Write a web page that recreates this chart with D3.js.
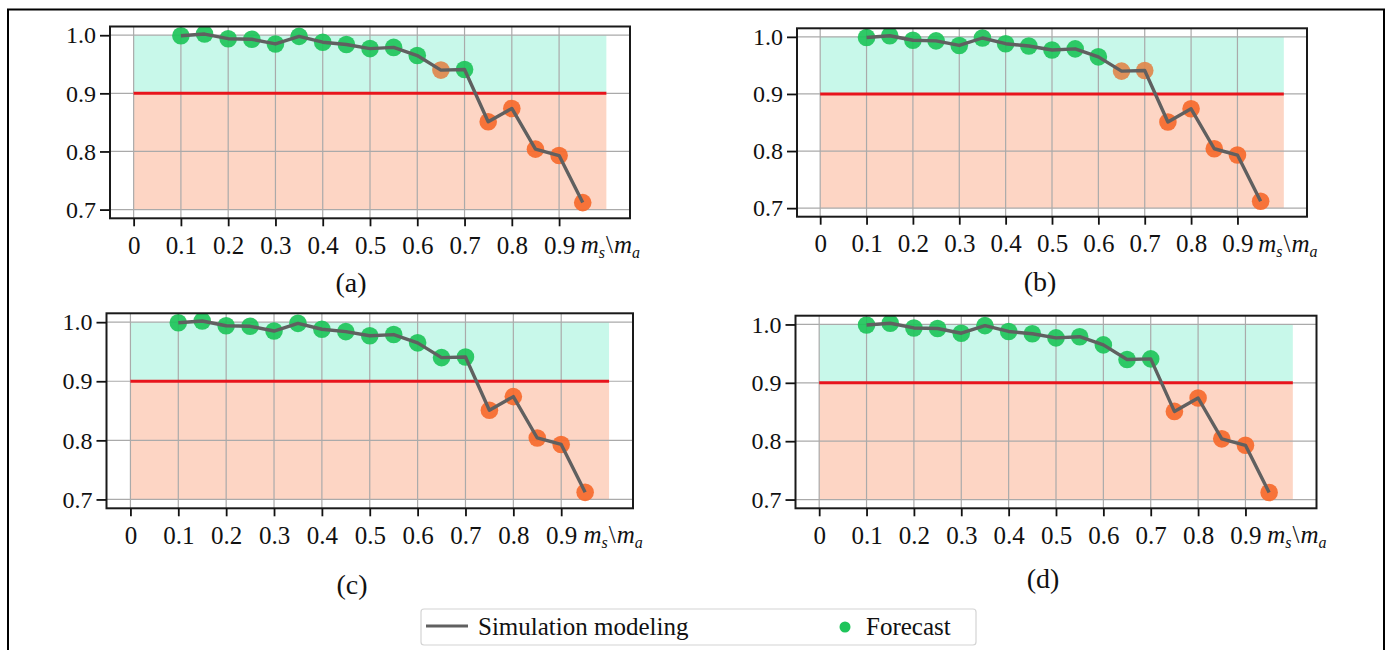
<!DOCTYPE html>
<html lang="en">
<head>
    <meta charset="UTF-8">
    <title>Simulation modeling vs forecast</title>
    <script src="https://d3js.org/d3.v7.min.js"></script>
    <style>
        body {
            margin: 0;
            background: #fff;
        }
        svg text {
            font-family: "Liberation Serif", "DejaVu Serif", serif;
            fill: #111;
        }
        .axis path.domain {
            display: none;
        }
        .axis line {
            stroke: #111;
            stroke-width: 1.8;
        }
    </style>
</head>
<body>
    <div id="chart"></div>

    <script>
        // share of x points (m_s / m_a) and simulated values, same in all panels
        const xValues = [0.1, 0.15, 0.2, 0.25, 0.3, 0.35, 0.4, 0.45, 0.5, 0.55, 0.6, 0.65, 0.7, 0.75, 0.8, 0.85, 0.9, 0.95];
        const simValues = [0.999, 1.002, 0.994, 0.993, 0.985, 0.998, 0.988, 0.984, 0.977, 0.979, 0.965, 0.940, 0.941, 0.851, 0.874, 0.804, 0.793, 0.712];

        // forecast class per point: g = ok, o = below threshold, m = mixed
        const forecastA = ["g", "g", "g", "g", "g", "g", "g", "g", "g", "g", "g", "m", "g", "o", "o", "o", "o", "o"];
        const forecastB = ["g", "g", "g", "g", "g", "g", "g", "g", "g", "g", "g", "m", "m", "o", "o", "o", "o", "o"];
        const forecastC = ["g", "g", "g", "g", "g", "g", "g", "g", "g", "g", "g", "g", "g", "o", "o", "o", "o", "o"];
        const forecastD = ["g", "g", "g", "g", "g", "g", "g", "g", "g", "g", "g", "g", "g", "o", "o", "o", "o", "o"];

        const xTicks = [0, 0.1, 0.2, 0.3, 0.4, 0.5, 0.6, 0.7, 0.8, 0.9];
        const yTicks = [0.7, 0.8, 0.9, 1.0];
        const panelNames = ["(a)", "(b)", "(c)", "(d)"];
        const threshold = 0.9;
        const zoneTop = 1.0, zoneBottom = 0.7;
        const legendItems = ["Simulation modeling", "Forecast"];

        const dotColor = { g: "#1ec45a", o: "#f66a2c", m: "#e0874c" };
        const serif = "'Liberation Serif', 'DejaVu Serif', serif";

        // layout of the four axes frames (pixels)
        const frames = [
            { L: 110, R: 630, T: 26.5, B: 218.3, lx: 351, ly: 292, f: forecastA },
            { L: 797, R: 1307, T: 28.3, B: 216.7, lx: 1040, ly: 291, f: forecastB },
            { L: 106.5, R: 633, T: 313.3, B: 508.3, lx: 352, ly: 594, f: forecastC },
            { L: 795.5, R: 1316.5, T: 315.7, B: 508.3, lx: 1043, ly: 588, f: forecastD }
        ];

        const width = 1391, height = 650;

        const svg = d3.select("#chart").append("svg")
            .attr("width", width)
            .attr("height", height)
            .attr("font-family", serif);

        svg.append("rect")
            .attr("width", width).attr("height", height)
            .attr("fill", "#fff");

        // outer figure border
        svg.append("rect")
            .attr("x", 8).attr("y", 9.5)
            .attr("width", 1376).attr("height", 700)
            .attr("fill", "none")
            .attr("stroke", "#000")
            .attr("stroke-width", 2);

        frames.forEach((p, i) => {
            const x = d3.scaleLinear().domain([-0.05, 1.05]).range([p.L, p.R]);
            const y = d3.scaleLinear().domain([0.685, 1.015]).range([p.B, p.T]);

            const clipId = "clip" + i;
            svg.append("clipPath").attr("id", clipId)
                .append("rect")
                .attr("x", p.L).attr("y", p.T)
                .attr("width", p.R - p.L).attr("height", p.B - p.T);

            const g = svg.append("g").attr("clip-path", `url(#${clipId})`);

            // shaded zones
            g.append("rect")
                .attr("x", x(0)).attr("width", x(1) - x(0))
                .attr("y", y(zoneTop)).attr("height", y(threshold) - y(zoneTop))
                .attr("fill", "#c8f8ea");
            g.append("rect")
                .attr("x", x(0)).attr("width", x(1) - x(0))
                .attr("y", y(threshold)).attr("height", y(zoneBottom) - y(threshold))
                .attr("fill", "#fdd5c4");

            // grid
            g.selectAll(".vgrid").data(xTicks).enter().append("line")
                .attr("x1", d => x(d)).attr("x2", d => x(d))
                .attr("y1", p.T).attr("y2", p.B)
                .attr("stroke", "#aaa").attr("stroke-width", 1.2);
            g.selectAll(".hgrid").data(yTicks).enter().append("line")
                .attr("x1", p.L).attr("x2", p.R)
                .attr("y1", d => y(d)).attr("y2", d => y(d))
                .attr("stroke", "#aaa").attr("stroke-width", 1.2);

            // threshold line
            g.append("line")
                .attr("x1", x(0)).attr("x2", x(1))
                .attr("y1", y(threshold)).attr("y2", y(threshold))
                .attr("stroke", "#e8141c").attr("stroke-width", 3);

            // forecast dots
            g.selectAll(".dot").data(xValues).enter().append("circle")
                .attr("cx", d => x(d))
                .attr("cy", (d, j) => y(simValues[j]))
                .attr("r", 8.8)
                .attr("fill", (d, j) => dotColor[p.f[j]])
                .attr("opacity", 0.92);

            // simulation line
            const line = d3.line()
                .x((d, j) => x(d))
                .y((d, j) => y(simValues[j]));
            g.append("path")
                .datum(xValues)
                .attr("d", line)
                .attr("fill", "none")
                .attr("stroke", "#606060")
                .attr("stroke-width", 3.4)
                .attr("stroke-linejoin", "round");

            // frame
            svg.append("rect")
                .attr("x", p.L).attr("y", p.T)
                .attr("width", p.R - p.L).attr("height", p.B - p.T)
                .attr("fill", "none")
                .attr("stroke", "#1a1a1a")
                .attr("stroke-width", 2);

            // axes
            svg.append("g")
                .attr("class", "axis")
                .attr("transform", `translate(${p.L},0)`)
                .call(d3.axisLeft(y).tickValues(yTicks).tickFormat(d3.format(".1f"))
                    .tickSize(10).tickPadding(4))
                .attr("font-family", serif)
                .attr("font-size", 24);

            svg.append("g")
                .attr("class", "axis")
                .attr("transform", `translate(0,${p.B})`)
                .call(d3.axisBottom(x).tickValues(xTicks)
                    .tickFormat(d => d === 0 ? "0" : d.toFixed(1))
                    .tickSize(8).tickPadding(10))
                .attr("font-family", serif)
                .attr("font-size", 25);

            // x label m_s \ m_a
            const xl = svg.append("text")
                .attr("x", x(1) + 4)
                .attr("y", p.B + 35)
                .attr("text-anchor", "middle")
                .attr("font-size", 25);
            xl.append("tspan").attr("font-style", "italic").text("m");
            xl.append("tspan").attr("font-style", "italic").attr("font-size", 16).attr("dy", 5).text("s");
            xl.append("tspan").attr("dy", -5).attr("dx", 1).text("\\");
            xl.append("tspan").attr("font-style", "italic").attr("dx", 1).text("m");
            xl.append("tspan").attr("font-style", "italic").attr("font-size", 16).attr("dy", 5).text("a");

            // panel caption
            svg.append("text")
                .attr("x", p.lx).attr("y", p.ly)
                .attr("text-anchor", "middle")
                .attr("font-size", 28)
                .text(panelNames[i]);
        });

        // legend
        const lg = svg.append("g");
        lg.append("rect")
            .attr("x", 421).attr("y", 609)
            .attr("width", 555).attr("height", 36)
            .attr("rx", 3)
            .attr("fill", "#fff")
            .attr("stroke", "#d4d4d4")
            .attr("stroke-width", 1.2);
        lg.append("line")
            .attr("x1", 426).attr("x2", 468)
            .attr("y1", 626).attr("y2", 626)
            .attr("stroke", "#606060").attr("stroke-width", 3);
        lg.append("text")
            .attr("x", 478).attr("y", 635)
            .attr("font-size", 25)
            .text(legendItems[0]);
        lg.append("circle")
            .attr("cx", 845).attr("cy", 627).attr("r", 5.5)
            .attr("fill", dotColor.g);
        lg.append("text")
            .attr("x", 866).attr("y", 635)
            .attr("font-size", 25)
            .text(legendItems[1]);
    </script>
</body>
</html>
